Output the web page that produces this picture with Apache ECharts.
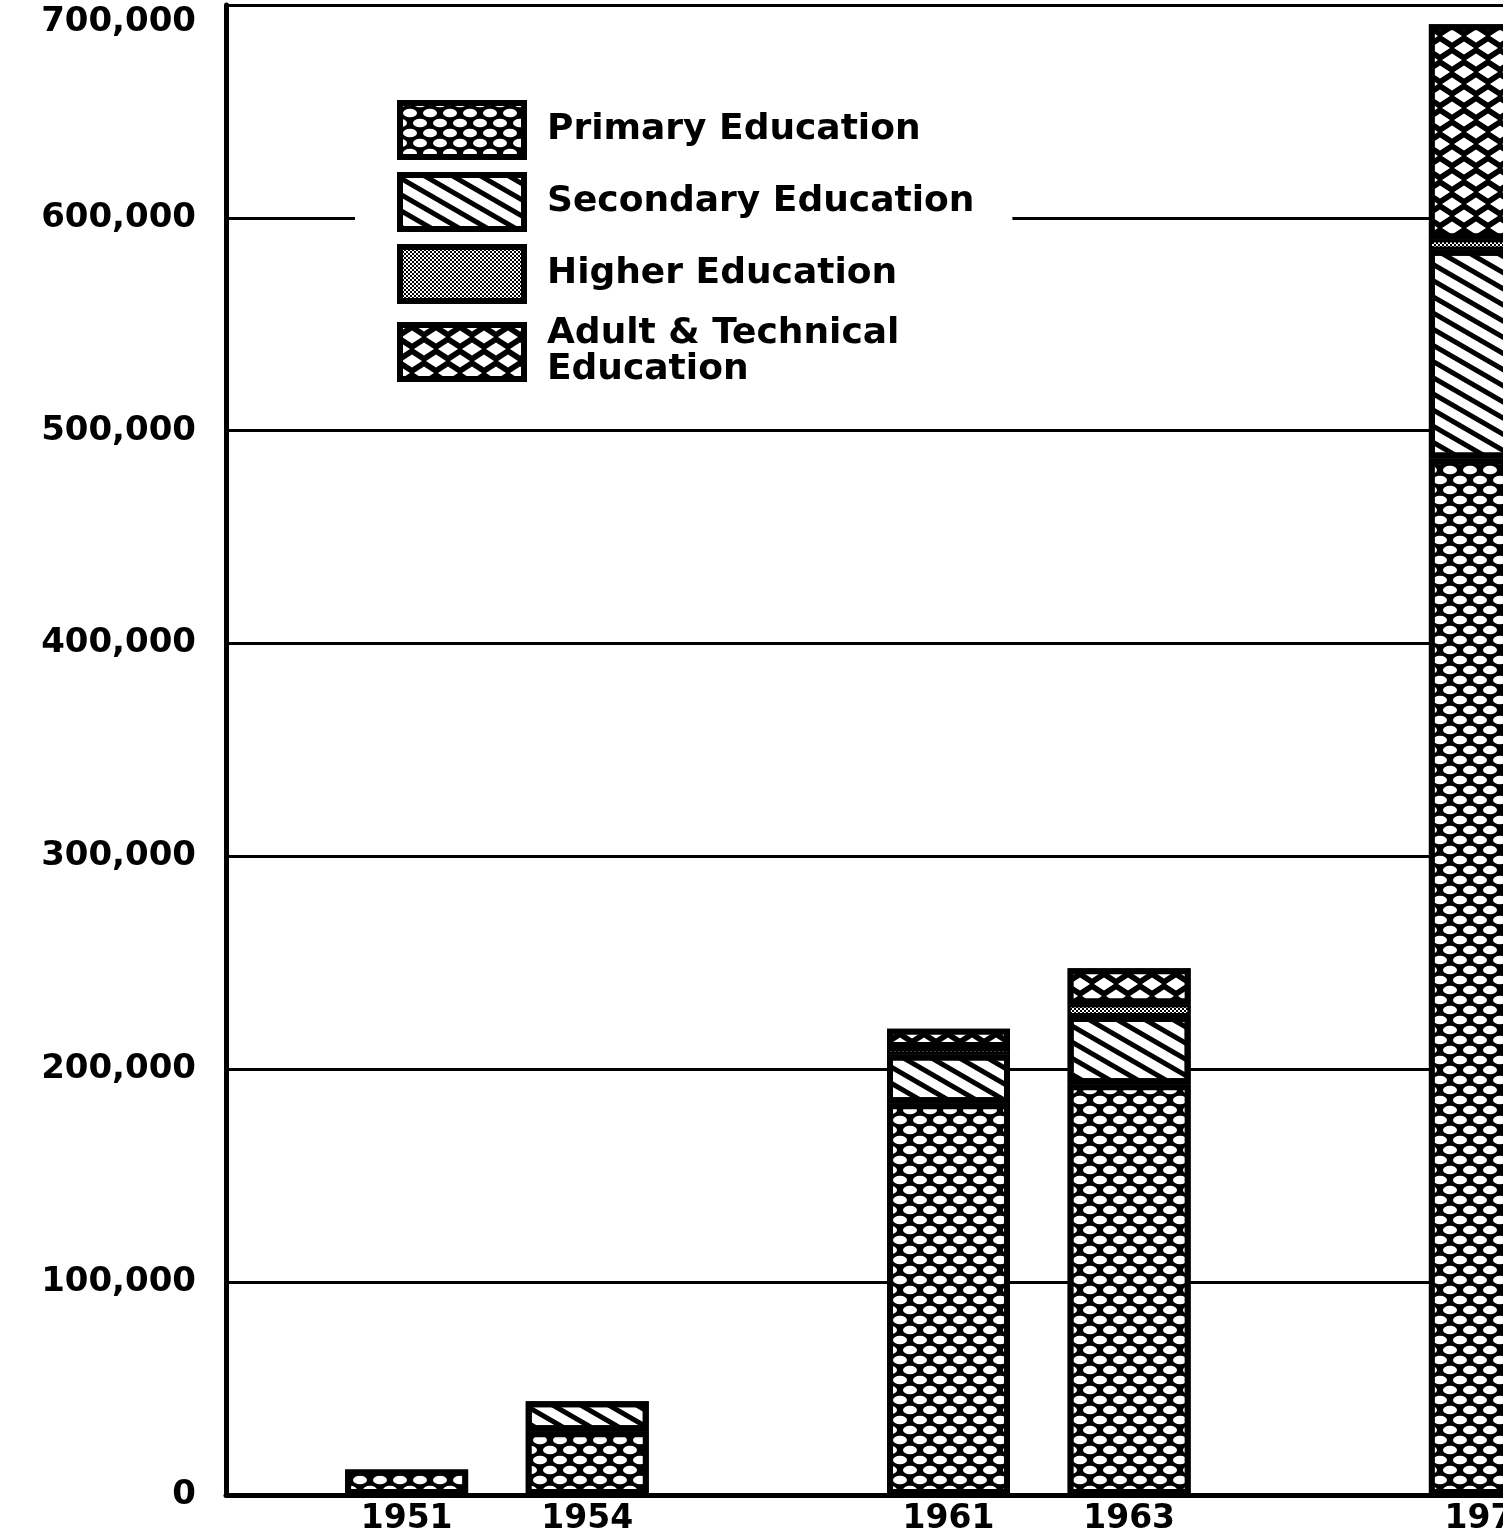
<!DOCTYPE html>
<html>
<head>
<meta charset="utf-8">
<script src="https://cdn.jsdelivr.net/npm/echarts@6.0.0/dist/echarts.min.js"></script>
<style>
html, body { margin: 0; padding: 0; background: #fff; }
#chart { width: 1503px; height: 1533px; }
</style>
</head>
<body>
<div id="chart"></div>
<script>
// empty slots keep the uneven gaps between the years
var years     = ['', '1951', '1954', '', '1961', '1963', '', '1970', ''];
var primary   = [null, 12000, 30000, null, 184000, 193000, null, 487000, null];
var secondary = [null, null, 14000, null, 23000, 32000, null, 98000, null];
var higher    = [null, null, null, null, 3000, 5500, null, 5000, null];
var adult     = [null, null, null, null, 9000, 17000, null, 101000, null];

var font = 'DejaVu Sans';

// white ovals on black, rows staggered
var dots = {
    color: '#000',
    borderColor: '#000',
    borderWidth: 6,
    decal: {
        symbol: 'path://M0,0L7,0A7,4.3 0 0,1 0,4.3Z M20,0L20,4.3A7,4.3 0 0,1 13,0Z M0,20L0,15.7A7,4.3 0 0,1 7,20Z M20,20L13,20A7,4.3 0 0,1 20,15.7Z M3,10A7,4.3 0 0,1 17,10A7,4.3 0 0,1 3,10Z',
        symbolSize: 1,
        symbolKeepAspect: false,
        color: '#fff',
        dashArrayX: [20, 0],
        dashArrayY: [20, 0]
    }
};
var stripes = {
    color: '#fff',
    borderColor: '#000',
    borderWidth: 6,
    decal: {
        symbol: 'rect',
        symbolSize: 1,
        color: '#000',
        dashArrayX: [1, 0],
        dashArrayY: [5, 9],
        rotation: Math.PI / 6
    }
};
var stipple = {
    color: '#fff',
    borderColor: '#000',
    borderWidth: 3,
    decal: {
        symbol: 'rect',
        symbolSize: 1,
        color: '#000',
        dashArrayX: [[2, 2], [0, 2, 2, 0]],
        dashArrayY: [2, 0]
    }
};
// white lozenges between crossing black lines
var hatch = {
    color: '#000',
    borderColor: '#000',
    borderWidth: 6,
    decal: {
        symbol: 'path://M2,12L12,5.5L22,12L12,18.5Z M0,0L10,0L0,6.5Z M24,0L24,6.5L14,0Z M0,24L0,17.5L10,24Z M24,24L14,24L24,17.5Z',
        symbolSize: 1,
        symbolKeepAspect: false,
        color: '#fff',
        dashArrayX: [24, 0],
        dashArrayY: [24, 0]
    }
};

var dom = document.getElementById('chart');
var myChart = echarts.init(dom);
var option = {
    backgroundColor: '#fff',
    animation: false,
    grid: {
        left: 226,
        top: 5,
        bottom: 38,
        width: 1445,
        outerBoundsMode: 'none'
    },
    legend: {
        orient: 'vertical',
        left: 355,
        top: 86,
        padding: [14, 38, 14, 42],
        backgroundColor: '#fff',
        itemWidth: 124,
        itemHeight: 54,
        itemGap: 12,
        icon: 'rect',
        itemStyle: { borderColor: '#000', borderWidth: 6 },
        textStyle: {
            fontFamily: font,
            fontWeight: 'bold',
            fontSize: 36,
            color: '#000',
            padding: [0, 0, 0, 18],
            lineHeight: 36
        }
    },
    xAxis: {
        type: 'category',
        data: years,
        boundaryGap: false,
        axisLine: { lineStyle: { color: '#000', width: 5 } },
        axisTick: { show: false },
        axisLabel: {
            interval: 0,
            margin: 8,
            fontFamily: font,
            fontWeight: 'bold',
            fontSize: 33,
            color: '#000'
        },
        splitLine: { show: false }
    },
    yAxis: {
        type: 'value',
        min: 0,
        max: 700000,
        interval: 100000,
        axisLine: { show: true, lineStyle: { color: '#000', width: 5 } },
        axisTick: { show: false },
        axisLabel: {
            margin: 30,
            fontFamily: font,
            fontWeight: 'bold',
            fontSize: 34,
            color: '#000',
            verticalAlignMaxLabel: 'top'
        },
        splitLine: { lineStyle: { color: '#000', width: 3 } }
    },
    series: [
        { name: 'Primary Education', type: 'bar', stack: 'edu', barWidth: 123, clip: false, itemStyle: dots, data: primary },
        { name: 'Secondary Education', type: 'bar', stack: 'edu', barWidth: 123, clip: false, itemStyle: stripes, data: secondary },
        { name: 'Higher Education', type: 'bar', stack: 'edu', barWidth: 123, clip: false, itemStyle: stipple, data: higher },
        { name: 'Adult & Technical\nEducation', type: 'bar', stack: 'edu', barWidth: 123, clip: false, itemStyle: hatch, data: adult }
    ]
};
if (option && typeof option === "object") {
    myChart.setOption(option, true);
}
</script>
</body>
</html>
